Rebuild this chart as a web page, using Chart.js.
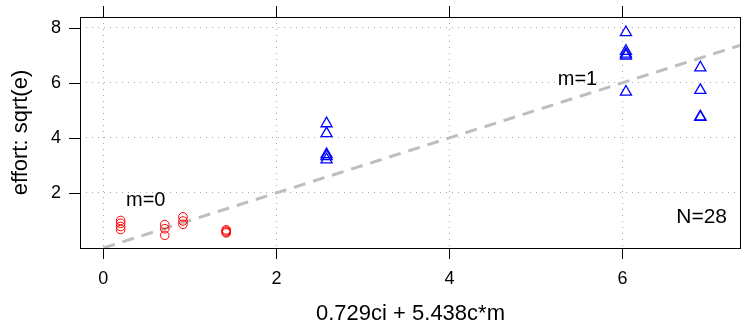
<!DOCTYPE html>
<html>
<head>
<meta charset="utf-8">
<script src="https://cdn.jsdelivr.net/npm/chart.js@4"></script>
<style>
  html, body { margin: 0; padding: 0; background: #fff; }
  #wrap { width: 742px; height: 329px; }
</style>
</head>
<body>
<div id="wrap"><canvas id="grafico"></canvas></div>
<script>
// --- Datos -----------------------------------------------------------------
// m = 0 (círculos rojos)
const m0X = [0.20, 0.20, 0.20, 0.20, 0.71, 0.71, 0.71, 0.92, 0.92, 0.92, 1.42, 1.42, 1.42, 1.42];
const m0Y = [1.00, 0.90, 0.78, 0.67, 0.85, 0.70, 0.46, 1.13, 0.98, 0.86, 0.66, 0.62, 0.58, 0.55];
// m = 1 (triángulos azules)
const m1X = [2.58, 2.58, 2.58, 2.58, 2.58, 6.04, 6.04, 6.04, 6.04, 6.04, 6.90, 6.90, 6.90, 6.90];
const m1Y = [4.52, 4.16, 3.40, 3.33, 3.21, 7.83, 7.15, 7.05, 6.98, 5.67, 6.55, 5.73, 4.77, 4.75];
// recta de referencia y = x
const refX = [0, 7.6];
const refY = [0, 7.6];

const ticksX = [0, 2, 4, 6];
const ticksY = [0, 2, 4, 6, 8];
const etiquetasY = ['', '2', '4', '6', '8'];

const tituloX = '0.729ci + 5.438c*m';
const tituloY = 'effort: sqrt(e)';
const notas = [
  { texto: 'm=0', x: 0.49, y: 1.71 },
  { texto: 'm=1', x: 5.48, y: 6.12 },
];
const notaN = 'N=28';

const FUENTE = '"Liberation Sans", Arial, Helvetica, sans-serif';
const puntos = (xs, ys) => xs.map((x, i) => ({ x, y: ys[i] }));

// Marco, marcas de ejes (izq., abajo y arriba) y textos sueltos.
const marcoPlugin = {
  id: 'marco',
  afterDraw(chart) {
    const { ctx, chartArea: a, scales: { x, y } } = chart;
    ctx.save();
    ctx.strokeStyle = '#000';
    ctx.lineWidth = 1;
    ctx.strokeRect(a.left + 0.5, a.top + 0.5, a.right - a.left - 1, a.bottom - a.top);
    ctx.beginPath();
    ticksX.forEach((v) => {
      const px = Math.round(x.getPixelForValue(v)) + 0.5;
      ctx.moveTo(px, a.bottom); ctx.lineTo(px, a.bottom + 11);
      ctx.moveTo(px, a.top); ctx.lineTo(px, a.top - 11);
    });
    ticksY.forEach((v) => {
      if (v === 0) return;
      const py = Math.round(y.getPixelForValue(v)) + 0.5;
      ctx.moveTo(a.left, py); ctx.lineTo(a.left - 11, py);
    });
    ctx.stroke();

    ctx.fillStyle = '#000';
    ctx.font = '20px ' + FUENTE;
    ctx.textBaseline = 'middle';
    ctx.textAlign = 'center';
    notas.forEach((n) => ctx.fillText(n.texto, x.getPixelForValue(n.x), y.getPixelForValue(n.y)));
    ctx.font = '21px ' + FUENTE;
    ctx.textAlign = 'right';
    ctx.fillText(notaN, a.right - 14, a.bottom - 31);
    ctx.restore();
  },
};

// Sin relleno extra por las etiquetas: el área del gráfico queda fija.
const sinPadding = (s) => {
  s.paddingTop = 0; s.paddingBottom = 0; s.paddingLeft = 0; s.paddingRight = 0;
};

new Chart(document.getElementById('grafico'), {
  type: 'scatter',
  data: {
    datasets: [
      {
        data: puntos(refX, refY), showLine: true, pointRadius: 0, clip: 0,
        borderColor: '#bebebe', borderWidth: 3, borderDash: [12, 8], order: 3,
      },
      {
        data: puntos(m0X, m0Y), pointStyle: 'circle', pointRadius: 4.3,
        borderColor: '#ff0000', backgroundColor: 'rgba(0,0,0,0)', pointBorderWidth: 1, order: 1,
      },
      {
        data: puntos(m1X, m1Y), pointStyle: 'triangle', pointRadius: 6.4,
        borderColor: '#0000ff', backgroundColor: 'rgba(0,0,0,0)', pointBorderWidth: 1.3, order: 2,
      },
    ],
  },
  options: {
    responsive: true, maintainAspectRatio: false, animation: false,
    layout: { autoPadding: false, padding: { top: 17, right: 1, left: 0, bottom: 0 } },
    plugins: { legend: { display: false }, tooltip: { enabled: false } },
    scales: {
      x: {
        type: 'linear', min: -0.27, max: 7.37,
        afterFit: (s) => { s.height = 81; sinPadding(s); },
        afterBuildTicks: (s) => { s.ticks = ticksX.map((v) => ({ value: v })); },
        ticks: { color: '#000', font: { family: FUENTE, size: 18 }, padding: 20, maxRotation: 0 },
        grid: { color: '#a8a8a8', lineWidth: 1, drawTicks: false },
        border: { display: false, dash: [1, 5] },
        title: { display: true, text: tituloX, color: '#000', font: { family: FUENTE, size: 22 }, padding: { top: 0, bottom: 2 } },
      },
      y: {
        type: 'linear', min: 0, max: 8.39,
        afterFit: (s) => { s.width = 80; sinPadding(s); },
        afterBuildTicks: (s) => { s.ticks = ticksY.map((v) => ({ value: v })); },
        ticks: {
          color: '#000', font: { family: FUENTE, size: 18 }, padding: 19,
          callback: (v, i) => etiquetasY[i],
        },
        grid: { color: '#a8a8a8', lineWidth: 1, drawTicks: false },
        border: { display: false, dash: [1, 5] },
        title: { display: true, text: tituloY, color: '#000', font: { family: FUENTE, size: 22 }, padding: { top: 8, bottom: 0 } },
      },
    },
  },
  plugins: [marcoPlugin],
});
</script>
</body>
</html>
